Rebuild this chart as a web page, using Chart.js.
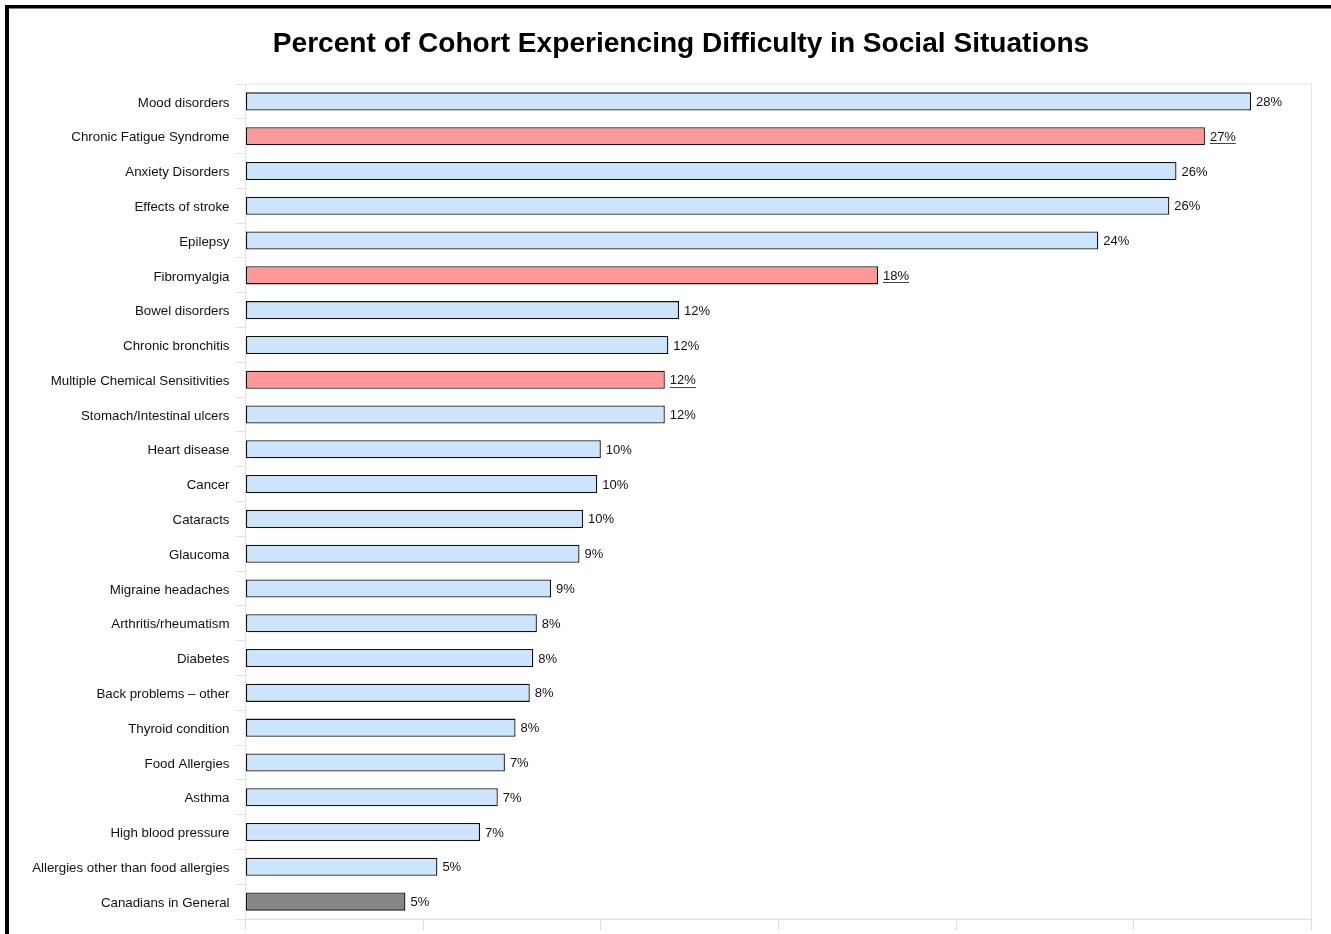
<!DOCTYPE html>
<html>
<head>
<meta charset="utf-8">
<title>Difficulty in Social Situations</title>
<script src="https://cdn.jsdelivr.net/npm/chart.js@4"></script>
<style>
    body { margin: 0; background: #fff; }
    .chartBox { position: relative; width: 1331px; height: 934px; }
</style>
</head>
<body>
<div class="chartBox">
    <canvas id="social"></canvas>
</div>
<script>
// Données
const categories = [
    'Mood disorders', 'Chronic Fatigue Syndrome', 'Anxiety Disorders', 'Effects of stroke',
    'Epilepsy', 'Fibromyalgia', 'Bowel disorders', 'Chronic bronchitis',
    'Multiple Chemical Sensitivities', 'Stomach/Intestinal ulcers', 'Heart disease', 'Cancer',
    'Cataracts', 'Glaucoma', 'Migraine headaches', 'Arthritis/rheumatism',
    'Diabetes', 'Back problems \u2013 other', 'Thyroid condition', 'Food Allergies',
    'Asthma', 'High blood pressure', 'Allergies other than food allergies', 'Canadians in General'
];
const percents = [
    28.3, 27.0, 26.2, 26.0,
    24.0, 17.8, 12.2, 11.9,
    11.8, 11.8, 10.0, 9.9,
    9.5, 9.4, 8.6, 8.2,
    8.1, 8.0, 7.6, 7.3,
    7.1, 6.6, 5.4, 4.5
];
const highlighted = ['Chronic Fatigue Syndrome', 'Fibromyalgia', 'Multiple Chemical Sensitivities'];
const reference = 'Canadians in General';
const axisMax = 30;
const axisStep = 5;
const chartTitle = 'Percent of Cohort Experiencing Difficulty in Social Situations';

const FONT = "'Liberation Sans', Arial, sans-serif";

const barColors = categories.map((c) => {
    if (highlighted.includes(c)) return '#ff9999';
    if (c === reference) return '#878787';
    return '#cce4fc';
});

// Cadre noir, titre et bordure de la zone de tracé
const framePlugin = {
    id: 'frame',
    beforeDatasetsDraw(chart) {
        const { ctx, chartArea: a } = chart;
        ctx.save();
        ctx.strokeStyle = '#e3e3e3';
        ctx.lineWidth = 1;
        ctx.strokeRect(a.left, a.top, a.right - a.left, a.bottom - a.top);
        ctx.restore();
    },
    afterDraw(chart) {
        const ctx = chart.ctx;
        ctx.save();
        ctx.fillStyle = '#000';
        ctx.fillRect(5, 5, 4, chart.height);
        ctx.fillRect(5, 5, chart.width, 3.5);
        ctx.font = 'bold 28.1px ' + FONT;
        ctx.textAlign = 'center';
        ctx.textBaseline = 'alphabetic';
        ctx.fillText(chartTitle, 681, 52);
        ctx.restore();
    }
};

// Étiquettes de valeur à droite des barres
const valueLabels = {
    id: 'valueLabels',
    afterDatasetsDraw(chart) {
        const ctx = chart.ctx;
        const meta = chart.getDatasetMeta(0);
        ctx.save();
        ctx.font = '13px ' + FONT;
        ctx.fillStyle = '#111';
        ctx.textBaseline = 'middle';
        ctx.textAlign = 'left';
        meta.data.forEach((bar, i) => {
            const txt = Math.round(percents[i]) + '%';
            const x = bar.x + 5;
            ctx.fillText(txt, x, bar.y + 1);
            if (highlighted.includes(categories[i])) {
                const w = ctx.measureText(txt).width;
                ctx.strokeStyle = '#444';
                ctx.lineWidth = 1;
                ctx.beginPath();
                ctx.moveTo(x, Math.round(bar.y) + 7.5);
                ctx.lineTo(x + w, Math.round(bar.y) + 7.5);
                ctx.stroke();
            }
        });
        ctx.restore();
    }
};

const socialChart = new Chart(document.getElementById('social'), {
    type: 'bar',
    data: {
        labels: categories,
        datasets: [{
            data: percents,
            backgroundColor: barColors,
            borderColor: '#111',
            borderWidth: 1.3,
            borderSkipped: false,
            barPercentage: 0.52,
            categoryPercentage: 1
        }]
    },
    options: {
        indexAxis: 'y',
        responsive: true,
        maintainAspectRatio: false,
        animation: false,
        layout: { padding: { left: 0, right: 19.5, top: 84, bottom: 0 } },
        plugins: {
            legend: { display: false },
            tooltip: { enabled: false },
            title: { display: false }
        },
        scales: {
            x: {
                min: 0,
                max: axisMax,
                ticks: { stepSize: axisStep, display: false },
                grid: { drawOnChartArea: false, color: '#dcdcdc', tickLength: 11 },
                border: { color: '#e3e3e3' },
                afterFit(scale) { scale.height = 15; }
            },
            y: {
                ticks: { color: '#111', font: { family: FONT, size: 13.3 }, padding: 6, labelOffset: 1.5 },
                grid: { drawOnChartArea: false, color: '#e3e3e3', tickLength: 10 },
                border: { color: '#d9d9d9' },
                afterFit(scale) { scale.width = 245.5; }
            }
        }
    },
    plugins: [framePlugin, valueLabels]
});
</script>
</body>
</html>
